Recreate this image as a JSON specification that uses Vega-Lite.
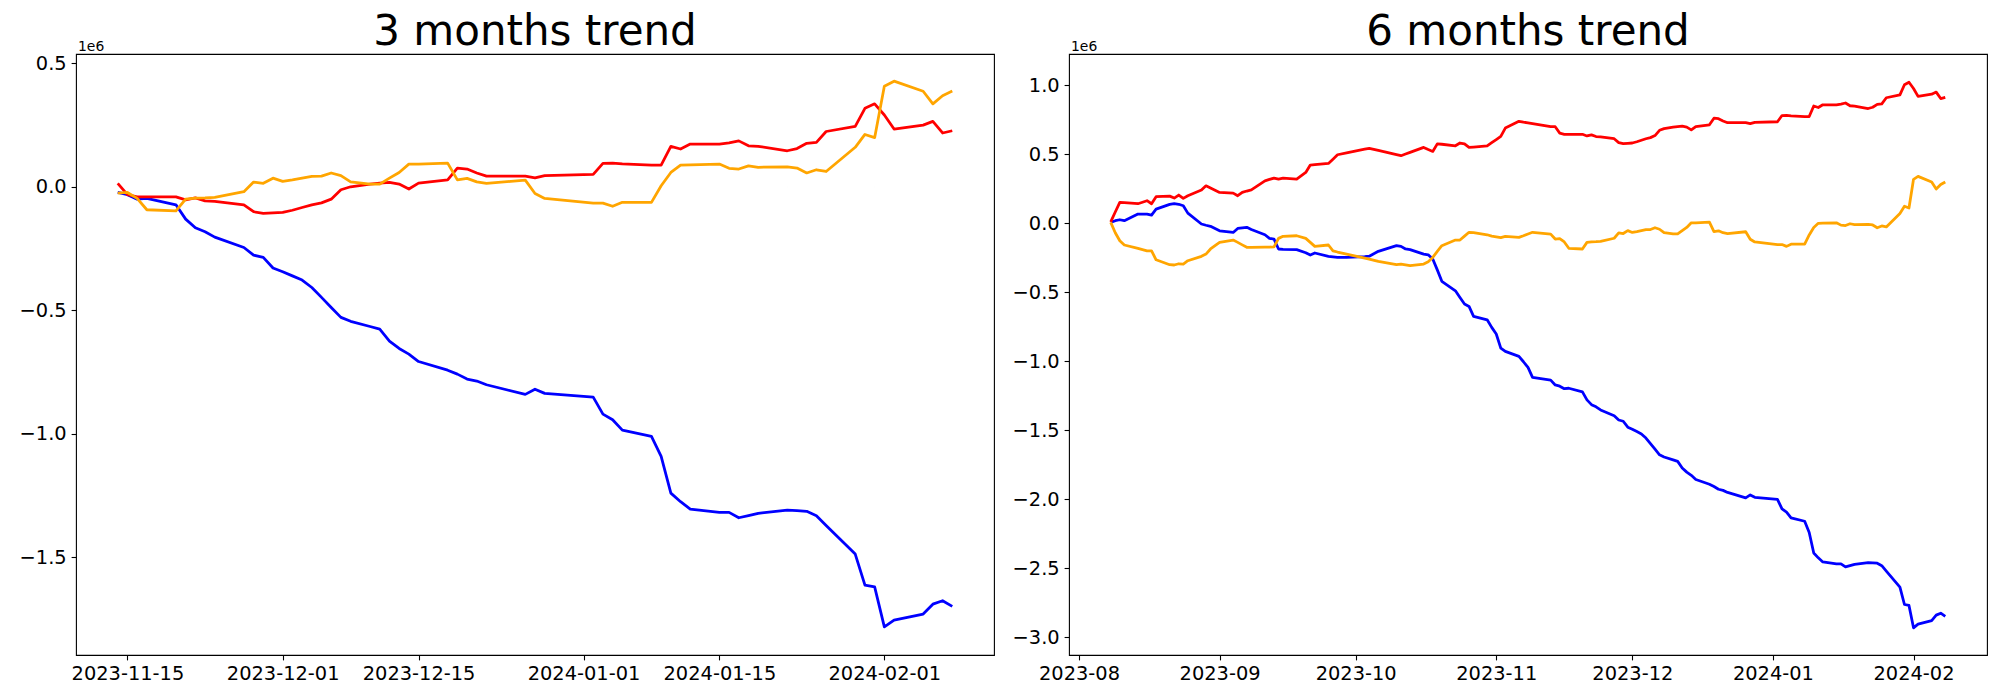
{
  "$schema": "https://vega.github.io/schema/vega-lite/v6.json",
  "background": "white",
  "padding": {"left": 18, "top": 10, "right": 5, "bottom": 5},
  "spacing": 75,
  "bounds": "flush",
  "config": {
    "font": "DejaVu Sans",
    "view": {"stroke": "black", "strokeWidth": 1.1},
    "axis": {"domain": false, "grid": false, "ticks": true, "tickColor": "black", "tickSize": 4.9, "tickWidth": 1.1, "labelFont": "DejaVu Sans", "labelFontSize": 19.4, "labelColor": "black", "labelPadding": 4.9, "titleFont": "DejaVu Sans", "titleFontWeight": "normal", "titleColor": "black"},
    "title": {"font": "DejaVu Sans", "fontSize": 42, "fontWeight": "normal", "color": "black", "anchor": "middle", "frame": "group", "baseline": "alphabetic", "offset": -15}
  },
  "datasets": {
    "threeM": [
      {"date": "2023-11-14", "r": 14000, "o": -26000, "b": -23000},
      {"date": "2023-11-15", "r": -32000, "o": -23000, "b": -32000},
      {"date": "2023-11-16", "r": -41000, "o": -47000, "b": -50000},
      {"date": "2023-11-17", "r": -41000, "o": -93000, "b": -47000},
      {"date": "2023-11-20", "r": -41000, "o": -98000, "b": -73000},
      {"date": "2023-11-21", "r": -53000, "o": -50000, "b": -131000},
      {"date": "2023-11-22", "r": -45000, "o": -46000, "b": -166000},
      {"date": "2023-11-23", "r": -57000, "o": -45000, "b": -182000},
      {"date": "2023-11-24", "r": -59000, "o": -43000, "b": -204000},
      {"date": "2023-11-27", "r": -73000, "o": -20000, "b": -246000},
      {"date": "2023-11-28", "r": -101000, "o": 19000, "b": -277000},
      {"date": "2023-11-29", "r": -108000, "o": 14000, "b": -286000},
      {"date": "2023-11-30", "r": -106000, "o": 35000, "b": -329000},
      {"date": "2023-12-01", "r": -104000, "o": 22000, "b": -344000},
      {"date": "2023-12-02", "r": -95000, "o": 28000, "b": -361000},
      {"date": "2023-12-03", "r": -84000, "o": 35000, "b": -378000},
      {"date": "2023-12-04", "r": -73000, "o": 42000, "b": -408000},
      {"date": "2023-12-05", "r": -65000, "o": 43000, "b": -448000},
      {"date": "2023-12-06", "r": -50000, "o": 56000, "b": -489000},
      {"date": "2023-12-07", "r": -12000, "o": 45000, "b": -529000},
      {"date": "2023-12-08", "r": 0, "o": 20000, "b": -545000},
      {"date": "2023-12-10", "r": 11000, "o": 11000, "b": -566000},
      {"date": "2023-12-11", "r": 15000, "o": 11000, "b": -577000},
      {"date": "2023-12-12", "r": 18000, "o": 35000, "b": -625000},
      {"date": "2023-12-13", "r": 11000, "o": 58000, "b": -655000},
      {"date": "2023-12-14", "r": -9000, "o": 92000, "b": -678000},
      {"date": "2023-12-15", "r": 15000, "o": 92000, "b": -708000},
      {"date": "2023-12-18", "r": 28000, "o": 96000, "b": -743000},
      {"date": "2023-12-19", "r": 76000, "o": 28000, "b": -759000},
      {"date": "2023-12-20", "r": 72000, "o": 34000, "b": -779000},
      {"date": "2023-12-21", "r": 56000, "o": 20000, "b": -787000},
      {"date": "2023-12-22", "r": 43000, "o": 14000, "b": -802000},
      {"date": "2023-12-26", "r": 43000, "o": 27000, "b": -841000},
      {"date": "2023-12-27", "r": 36000, "o": -27000, "b": -820000},
      {"date": "2023-12-28", "r": 45000, "o": -47000, "b": -837000},
      {"date": "2024-01-02", "r": 50000, "o": -66000, "b": -852000},
      {"date": "2024-01-03", "r": 95000, "o": -66000, "b": -921000},
      {"date": "2024-01-04", "r": 96000, "o": -79000, "b": -944000},
      {"date": "2024-01-05", "r": 93000, "o": -63000, "b": -986000},
      {"date": "2024-01-08", "r": 88000, "o": -63000, "b": -1011000},
      {"date": "2024-01-09", "r": 88000, "o": 4000, "b": -1092000},
      {"date": "2024-01-10", "r": 164000, "o": 58000, "b": -1241000},
      {"date": "2024-01-11", "r": 153000, "o": 88000, "b": -1276000},
      {"date": "2024-01-12", "r": 173000, "o": 89000, "b": -1306000},
      {"date": "2024-01-15", "r": 173000, "o": 92000, "b": -1319000},
      {"date": "2024-01-16", "r": 178000, "o": 75000, "b": -1319000},
      {"date": "2024-01-17", "r": 186000, "o": 72000, "b": -1341000},
      {"date": "2024-01-18", "r": 166000, "o": 85000, "b": -1332000},
      {"date": "2024-01-19", "r": 164000, "o": 79000, "b": -1323000},
      {"date": "2024-01-22", "r": 146000, "o": 81000, "b": -1310000},
      {"date": "2024-01-23", "r": 155000, "o": 76000, "b": -1312000},
      {"date": "2024-01-24", "r": 176000, "o": 56000, "b": -1315000},
      {"date": "2024-01-25", "r": 180000, "o": 69000, "b": -1333000},
      {"date": "2024-01-26", "r": 224000, "o": 62000, "b": -1372000},
      {"date": "2024-01-29", "r": 245000, "o": 160000, "b": -1488000},
      {"date": "2024-01-30", "r": 318000, "o": 212000, "b": -1614000},
      {"date": "2024-01-31", "r": 336000, "o": 199000, "b": -1621000},
      {"date": "2024-02-01", "r": 291000, "o": 407000, "b": -1783000},
      {"date": "2024-02-02", "r": 234000, "o": 428000, "b": -1756000},
      {"date": "2024-02-05", "r": 250000, "o": 387000, "b": -1731000},
      {"date": "2024-02-06", "r": 265000, "o": 336000, "b": -1691000},
      {"date": "2024-02-07", "r": 218000, "o": 369000, "b": -1677000},
      {"date": "2024-02-08", "r": 227000, "o": 388000, "b": -1700000}
    ],
    "sixM": [
      {"date": "2023-08-08", "r": 9000, "o": 5000, "b": 5000},
      {"date": "2023-08-09", "r": 80000, "o": -70000, "b": 17000},
      {"date": "2023-08-10", "r": 150000, "o": -128000, "b": 24000},
      {"date": "2023-08-11", "r": 148000, "o": -159000, "b": 17000},
      {"date": "2023-08-14", "r": 140000, "o": -183000, "b": 65000},
      {"date": "2023-08-16", "r": 162000, "o": -201000, "b": 65000},
      {"date": "2023-08-17", "r": 140000, "o": -201000, "b": 58000},
      {"date": "2023-08-18", "r": 191000, "o": -266000, "b": 101000},
      {"date": "2023-08-21", "r": 195000, "o": -302000, "b": 135000},
      {"date": "2023-08-22", "r": 181000, "o": -304000, "b": 140000},
      {"date": "2023-08-23", "r": 203000, "o": -295000, "b": 136000},
      {"date": "2023-08-24", "r": 179000, "o": -297000, "b": 125000},
      {"date": "2023-08-25", "r": 198000, "o": -273000, "b": 72000},
      {"date": "2023-08-28", "r": 239000, "o": -241000, "b": -7000},
      {"date": "2023-08-29", "r": 270000, "o": -225000, "b": -16000},
      {"date": "2023-08-30", "r": 254000, "o": -188000, "b": -24000},
      {"date": "2023-09-01", "r": 222000, "o": -140000, "b": -56000},
      {"date": "2023-09-04", "r": 217000, "o": -123000, "b": -68000},
      {"date": "2023-09-05", "r": 198000, "o": -140000, "b": -39000},
      {"date": "2023-09-06", "r": 222000, "o": -158000, "b": -35000},
      {"date": "2023-09-07", "r": 232000, "o": -176000, "b": -31000},
      {"date": "2023-09-08", "r": 241000, "o": -176000, "b": -47000},
      {"date": "2023-09-11", "r": 306000, "o": -175000, "b": -85000},
      {"date": "2023-09-12", "r": 316000, "o": -174000, "b": -111000},
      {"date": "2023-09-13", "r": 326000, "o": -172000, "b": -116000},
      {"date": "2023-09-14", "r": 319000, "o": -111000, "b": -188000},
      {"date": "2023-09-15", "r": 326000, "o": -96000, "b": -190000},
      {"date": "2023-09-18", "r": 319000, "o": -92000, "b": -193000},
      {"date": "2023-09-20", "r": 367000, "o": -111000, "b": -215000},
      {"date": "2023-09-21", "r": 420000, "o": -140000, "b": -232000},
      {"date": "2023-09-22", "r": 423000, "o": -169000, "b": -217000},
      {"date": "2023-09-25", "r": 432000, "o": -159000, "b": -241000},
      {"date": "2023-09-26", "r": 463000, "o": -201000, "b": -245000},
      {"date": "2023-09-27", "r": 495000, "o": -210000, "b": -249000},
      {"date": "2023-09-29", "r": 508000, "o": -225000, "b": -248000},
      {"date": "2023-10-03", "r": 535000, "o": -254000, "b": -244000},
      {"date": "2023-10-04", "r": 541000, "o": -262000, "b": -240000},
      {"date": "2023-10-06", "r": 526000, "o": -278000, "b": -205000},
      {"date": "2023-10-10", "r": 496000, "o": -302000, "b": -164000},
      {"date": "2023-10-11", "r": 488000, "o": -297000, "b": -169000},
      {"date": "2023-10-12", "r": 500000, "o": -303000, "b": -188000},
      {"date": "2023-10-13", "r": 512000, "o": -309000, "b": -193000},
      {"date": "2023-10-16", "r": 548000, "o": -297000, "b": -225000},
      {"date": "2023-10-17", "r": 533000, "o": -280000, "b": -230000},
      {"date": "2023-10-18", "r": 519000, "o": -249000, "b": -261000},
      {"date": "2023-10-19", "r": 574000, "o": -205000, "b": -339000},
      {"date": "2023-10-20", "r": 571000, "o": -164000, "b": -422000},
      {"date": "2023-10-23", "r": 560000, "o": -123000, "b": -491000},
      {"date": "2023-10-24", "r": 580000, "o": -123000, "b": -540000},
      {"date": "2023-10-25", "r": 574000, "o": -95000, "b": -587000},
      {"date": "2023-10-26", "r": 548000, "o": -67000, "b": -604000},
      {"date": "2023-10-27", "r": 551000, "o": -70000, "b": -676000},
      {"date": "2023-10-30", "r": 560000, "o": -85000, "b": -701000},
      {"date": "2023-10-31", "r": 583000, "o": -95000, "b": -756000},
      {"date": "2023-11-01", "r": 605000, "o": -100000, "b": -804000},
      {"date": "2023-11-02", "r": 628000, "o": -106000, "b": -906000},
      {"date": "2023-11-03", "r": 688000, "o": -96000, "b": -930000},
      {"date": "2023-11-06", "r": 737000, "o": -104000, "b": -966000},
      {"date": "2023-11-07", "r": 731000, "o": -92000, "b": -1005000},
      {"date": "2023-11-08", "r": 726000, "o": -79000, "b": -1046000},
      {"date": "2023-11-09", "r": 720000, "o": -67000, "b": -1118000},
      {"date": "2023-11-13", "r": 698000, "o": -80000, "b": -1138000},
      {"date": "2023-11-14", "r": 698000, "o": -116000, "b": -1173000},
      {"date": "2023-11-15", "r": 652000, "o": -113000, "b": -1182000},
      {"date": "2023-11-16", "r": 643000, "o": -137000, "b": -1200000},
      {"date": "2023-11-17", "r": 643000, "o": -183000, "b": -1197000},
      {"date": "2023-11-20", "r": 643000, "o": -188000, "b": -1223000},
      {"date": "2023-11-21", "r": 631000, "o": -140000, "b": -1281000},
      {"date": "2023-11-22", "r": 639000, "o": -136000, "b": -1316000},
      {"date": "2023-11-23", "r": 627000, "o": -135000, "b": -1332000},
      {"date": "2023-11-24", "r": 625000, "o": -133000, "b": -1354000},
      {"date": "2023-11-27", "r": 611000, "o": -110000, "b": -1396000},
      {"date": "2023-11-28", "r": 583000, "o": -71000, "b": -1427000},
      {"date": "2023-11-29", "r": 576000, "o": -76000, "b": -1436000},
      {"date": "2023-11-30", "r": 578000, "o": -55000, "b": -1479000},
      {"date": "2023-12-01", "r": 580000, "o": -68000, "b": -1494000},
      {"date": "2023-12-02", "r": 589000, "o": -62000, "b": -1511000},
      {"date": "2023-12-03", "r": 600000, "o": -55000, "b": -1528000},
      {"date": "2023-12-04", "r": 611000, "o": -48000, "b": -1558000},
      {"date": "2023-12-05", "r": 619000, "o": -47000, "b": -1598000},
      {"date": "2023-12-06", "r": 634000, "o": -34000, "b": -1639000},
      {"date": "2023-12-07", "r": 672000, "o": -45000, "b": -1679000},
      {"date": "2023-12-08", "r": 684000, "o": -70000, "b": -1695000},
      {"date": "2023-12-10", "r": 695000, "o": -79000, "b": -1716000},
      {"date": "2023-12-11", "r": 699000, "o": -79000, "b": -1727000},
      {"date": "2023-12-12", "r": 702000, "o": -55000, "b": -1775000},
      {"date": "2023-12-13", "r": 695000, "o": -32000, "b": -1805000},
      {"date": "2023-12-14", "r": 675000, "o": 2000, "b": -1828000},
      {"date": "2023-12-15", "r": 699000, "o": 2000, "b": -1858000},
      {"date": "2023-12-18", "r": 712000, "o": 6000, "b": -1893000},
      {"date": "2023-12-19", "r": 760000, "o": -62000, "b": -1909000},
      {"date": "2023-12-20", "r": 756000, "o": -56000, "b": -1929000},
      {"date": "2023-12-21", "r": 740000, "o": -70000, "b": -1937000},
      {"date": "2023-12-22", "r": 727000, "o": -76000, "b": -1952000},
      {"date": "2023-12-26", "r": 727000, "o": -63000, "b": -1991000},
      {"date": "2023-12-27", "r": 720000, "o": -117000, "b": -1970000},
      {"date": "2023-12-28", "r": 729000, "o": -137000, "b": -1987000},
      {"date": "2024-01-02", "r": 734000, "o": -156000, "b": -2002000},
      {"date": "2024-01-03", "r": 779000, "o": -156000, "b": -2071000},
      {"date": "2024-01-04", "r": 780000, "o": -169000, "b": -2094000},
      {"date": "2024-01-05", "r": 777000, "o": -153000, "b": -2136000},
      {"date": "2024-01-08", "r": 772000, "o": -153000, "b": -2161000},
      {"date": "2024-01-09", "r": 772000, "o": -86000, "b": -2242000},
      {"date": "2024-01-10", "r": 848000, "o": -32000, "b": -2391000},
      {"date": "2024-01-11", "r": 837000, "o": -2000, "b": -2426000},
      {"date": "2024-01-12", "r": 857000, "o": -1000, "b": -2456000},
      {"date": "2024-01-15", "r": 857000, "o": 2000, "b": -2469000},
      {"date": "2024-01-16", "r": 862000, "o": -15000, "b": -2469000},
      {"date": "2024-01-17", "r": 870000, "o": -18000, "b": -2491000},
      {"date": "2024-01-18", "r": 850000, "o": -5000, "b": -2482000},
      {"date": "2024-01-19", "r": 848000, "o": -11000, "b": -2473000},
      {"date": "2024-01-22", "r": 830000, "o": -9000, "b": -2460000},
      {"date": "2024-01-23", "r": 839000, "o": -14000, "b": -2462000},
      {"date": "2024-01-24", "r": 860000, "o": -34000, "b": -2465000},
      {"date": "2024-01-25", "r": 864000, "o": -21000, "b": -2483000},
      {"date": "2024-01-26", "r": 908000, "o": -28000, "b": -2522000},
      {"date": "2024-01-29", "r": 929000, "o": 70000, "b": -2638000},
      {"date": "2024-01-30", "r": 1002000, "o": 122000, "b": -2764000},
      {"date": "2024-01-31", "r": 1020000, "o": 109000, "b": -2771000},
      {"date": "2024-02-01", "r": 975000, "o": 317000, "b": -2933000},
      {"date": "2024-02-02", "r": 918000, "o": 338000, "b": -2906000},
      {"date": "2024-02-05", "r": 934000, "o": 297000, "b": -2881000},
      {"date": "2024-02-06", "r": 949000, "o": 246000, "b": -2841000},
      {"date": "2024-02-07", "r": 902000, "o": 279000, "b": -2827000},
      {"date": "2024-02-08", "r": 911000, "o": 298000, "b": -2850000}
    ]
  },
  "resolve": {"scale": {"x": "independent", "y": "independent"}},
  "hconcat": [
    {
      "title": "3 months trend",
      "width": 918,
      "height": 601,
      "data": {"name": "threeM"},
      "encoding": {
        "x": {
          "field": "date", "type": "temporal",
          "scale": {"type": "utc", "domain": [{"year": 2023, "month": 11, "date": 9, "hours": 16, "minutes": 48, "utc": true}, {"year": 2024, "month": 2, "date": 12, "hours": 7, "minutes": 12, "utc": true}]},
          "axis": {"title": null, "format": "%Y-%m-%d", "labelAngle": 0, "labelFlush": false, "labelOverlap": false,
            "values": [{"year": 2023, "month": 11, "date": 15, "utc": true}, {"year": 2023, "month": 12, "date": 1, "utc": true}, {"year": 2023, "month": 12, "date": 15, "utc": true}, {"year": 2024, "month": 1, "date": 1, "utc": true}, {"year": 2024, "month": 1, "date": 15, "utc": true}, {"year": 2024, "month": 2, "date": 1, "utc": true}]}
        }
      },
      "layer": [
        {"mark": {"type": "line", "color": "blue", "strokeWidth": 2.78, "strokeJoin": "round"},
         "encoding": {"y": {"field": "b", "type": "quantitative",
           "scale": {"domain": [-1897000, 538000], "nice": false, "zero": false},
           "axis": {"title": "1e6", "titleAngle": 0, "titleAlign": "left", "titleBaseline": "alphabetic", "titleX": 1.5, "titleY": -4, "titleFontSize": 13.9,
             "values": [500000, 0, -500000, -1000000, -1500000], "labelExpr": "format(datum.value / 1000000, '.1f')"}}}},
        {"mark": {"type": "line", "color": "red", "strokeWidth": 2.78, "strokeJoin": "round"},
         "encoding": {"y": {"field": "r", "type": "quantitative"}}},
        {"mark": {"type": "line", "color": "orange", "strokeWidth": 2.78, "strokeJoin": "round"},
         "encoding": {"y": {"field": "o", "type": "quantitative"}}},
        {"mark": {"type": "rule", "color": "black", "strokeWidth": 2.78, "strokeDash": [10.3, 4.4]},
         "encoding": {"y": {"datum": 0}}}
      ]
    },
    {
      "title": "6 months trend",
      "width": 918,
      "height": 601,
      "data": {"name": "sixM"},
      "encoding": {
        "x": {
          "field": "date", "type": "temporal",
          "scale": {"type": "utc", "domain": [{"year": 2023, "month": 7, "date": 29, "hours": 19, "minutes": 12, "utc": true}, {"year": 2024, "month": 2, "date": 17, "hours": 4, "minutes": 48, "utc": true}]},
          "axis": {"title": null, "format": "%Y-%m", "labelAngle": 0, "labelFlush": false, "labelOverlap": false,
            "values": [{"year": 2023, "month": 8, "date": 1, "utc": true}, {"year": 2023, "month": 9, "date": 1, "utc": true}, {"year": 2023, "month": 10, "date": 1, "utc": true}, {"year": 2023, "month": 11, "date": 1, "utc": true}, {"year": 2023, "month": 12, "date": 1, "utc": true}, {"year": 2024, "month": 1, "date": 1, "utc": true}, {"year": 2024, "month": 2, "date": 1, "utc": true}]}
        }
      },
      "layer": [
        {"mark": {"type": "line", "color": "blue", "strokeWidth": 2.78, "strokeJoin": "round"},
         "encoding": {"y": {"field": "b", "type": "quantitative",
           "scale": {"domain": [-3130000, 1225000], "nice": false, "zero": false},
           "axis": {"title": "1e6", "titleAngle": 0, "titleAlign": "left", "titleBaseline": "alphabetic", "titleX": 1.5, "titleY": -4, "titleFontSize": 13.9,
             "values": [1000000, 500000, 0, -500000, -1000000, -1500000, -2000000, -2500000, -3000000], "labelExpr": "format(datum.value / 1000000, '.1f')"}}}},
        {"mark": {"type": "line", "color": "red", "strokeWidth": 2.78, "strokeJoin": "round"},
         "encoding": {"y": {"field": "r", "type": "quantitative"}}},
        {"mark": {"type": "line", "color": "orange", "strokeWidth": 2.78, "strokeJoin": "round"},
         "encoding": {"y": {"field": "o", "type": "quantitative"}}},
        {"mark": {"type": "rule", "color": "black", "strokeWidth": 2.78, "strokeDash": [10.3, 4.4]},
         "encoding": {"y": {"datum": 0}}}
      ]
    }
  ]
}
